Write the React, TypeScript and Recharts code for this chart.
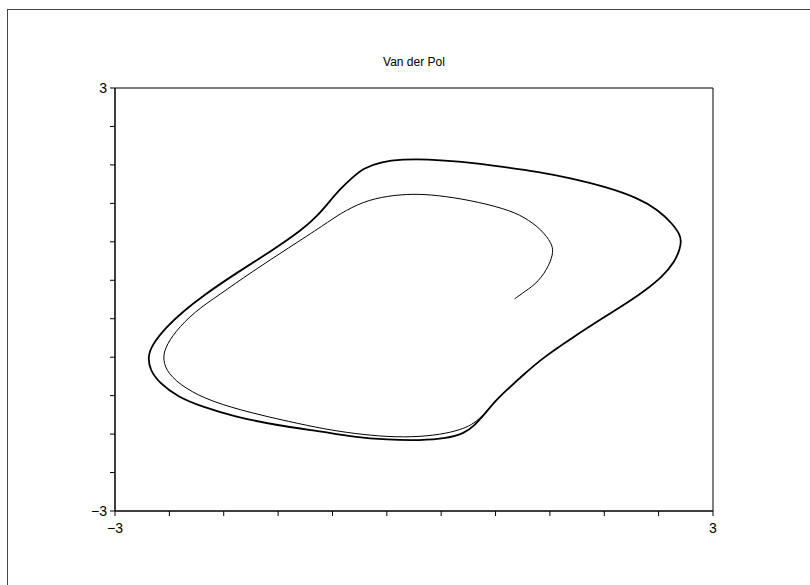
import { LineChart, Line, XAxis, YAxis, ReferenceArea } from 'recharts';

// first loop, from the start point until it joins the cycle
const transientX = [1.01, 1.11, 1.25, 1.36, 1.4, 1.38, 1.28, 1.11, 0.91, 0.56, 0.23, -0.01, -0.27, -0.51, -0.74, -0.89, -1.26, -1.63, -1.96, -2.2, -2.4, -2.5, -2.52, -2.47, -2.3, -2.03, -1.63, -1.26, -0.89, -0.61, -0.27, 0.06, 0.33, 0.5, 0.6, 0.71, 0.81, 0.91];
const transientY = [0.01, 0.11, 0.25, 0.49, 0.68, 0.8, 0.99, 1.17, 1.29, 1.41, 1.48, 1.5, 1.47, 1.39, 1.22, 1.07, 0.73, 0.39, 0.06, -0.17, -0.46, -0.69, -0.86, -1.05, -1.26, -1.45, -1.61, -1.73, -1.84, -1.9, -1.95, -1.95, -1.9, -1.83, -1.76, -1.62, -1.45, -1.31];

// the limit cycle (traced several times in the original, hence heavier)
const limitX = [0.91, 1.11, 1.31, 1.58, 1.92, 2.18, 2.32, 2.49, 2.62, 2.67, 2.68, 2.67, 2.59, 2.45, 2.25, 1.92, 1.58, 1.25, 0.91, 0.46, 0.13, -0.11, -0.34, -0.51, -0.61, -0.74, -0.86, -0.96, -1.12, -1.45, -1.8, -2.12, -2.3, -2.5, -2.63, -2.67, -2.65, -2.55, -2.37, -2.13, -1.8, -1.4, -0.89, -0.61, -0.27, 0.06, 0.33, 0.5, 0.6, 0.73, 0.81];
const limitY = [-1.31, -1.05, -0.81, -0.55, -0.24, -0.01, 0.13, 0.32, 0.54, 0.73, 0.82, 0.92, 1.08, 1.27, 1.44, 1.6, 1.72, 1.81, 1.88, 1.96, 1.99, 1.99, 1.95, 1.86, 1.74, 1.57, 1.37, 1.2, 0.99, 0.67, 0.36, 0.05, -0.15, -0.41, -0.65, -0.81, -1.0, -1.19, -1.38, -1.52, -1.66, -1.78, -1.88, -1.95, -1.99, -2.0, -1.97, -1.9, -1.8, -1.59, -1.45];

const xTicks = [-3, -2.4545, -1.9091, -1.3636, -0.8182, -0.2727, 0.2727, 0.8182, 1.3636, 1.9091, 2.4545, 3];
const yTicks = [-3, -2.4545, -1.9091, -1.3636, -0.8182, -0.2727, 0.2727, 0.8182, 1.3636, 1.9091, 2.4545, 3];
const labelledTicks = [-3, 3];
const title = 'Van der Pol';

const FONT = '"Liberation Sans", Arial, sans-serif';

const toPoints = (xs: number[], ys: number[]) => xs.map((x, i) => ({ x, y: ys[i] }));
const fmt = (v: number) => (v < 0 ? '\u2212' + Math.abs(v) : String(v));

const XTick = (props: any) => {
  const { x, y, payload } = props;
  if (!labelledTicks.includes(payload.value)) return <g />;
  return (
    <text x={x} y={y} dy={17} textAnchor="middle" fontSize={14} fontFamily={FONT} fill="#000">
      {fmt(payload.value)}
    </text>
  );
};

const YTick = (props: any) => {
  const { x, y, payload } = props;
  if (!labelledTicks.includes(payload.value)) return <g />;
  return (
    <text x={x} y={y} dx={-3} dy={5} textAnchor="end" fontSize={14} fontFamily={FONT} fill="#000">
      {fmt(payload.value)}
    </text>
  );
};

export default function App() {
  const transient = toPoints(transientX, transientY);
  const cycle = toPoints(limitX, limitY);

  return (
    <div style={{ position: 'absolute', left: 0, top: 0, width: 810, height: 585, background: '#fff', overflow: 'hidden' }}>
      <div
        style={{
          position: 'absolute',
          left: 7,
          top: 9,
          width: 820,
          height: 600,
          borderLeft: '1px solid #444',
          borderTop: '1px solid #444',
        }}
      />
      <div
        style={{
          position: 'absolute',
          left: 314,
          top: 55,
          width: 200,
          textAlign: 'center',
          fontFamily: FONT,
          fontSize: 12,
          color: '#000',
        }}
      >
        {title}
      </div>
      <div style={{ position: 'absolute', left: 0, top: 0 }}>
        <LineChart width={810} height={585} margin={{ top: 88, right: 97, bottom: 44, left: 75 }}>
          <XAxis
            dataKey="x"
            type="number"
            domain={[-3, 3]}
            ticks={xTicks}
            interval={0}
            height={30}
            tickSize={5}
            tickMargin={0}
            axisLine={{ stroke: '#000' }}
            tickLine={{ stroke: '#000' }}
            tick={<XTick />}
            allowDataOverflow
          />
          <YAxis
            dataKey="y"
            type="number"
            domain={[-3, 3]}
            ticks={yTicks}
            interval={0}
            width={40}
            tickSize={5}
            tickMargin={0}
            axisLine={{ stroke: '#000' }}
            tickLine={{ stroke: '#000' }}
            tick={<YTick />}
            allowDataOverflow
          />
          <ReferenceArea x1={-3} x2={3} y1={-3} y2={3} fill="none" stroke="#000" strokeOpacity={1} fillOpacity={0} />
          <Line
            data={transient}
            dataKey="y"
            type="basis"
            stroke="#000"
            strokeWidth={1}
            dot={false}
            activeDot={false}
            isAnimationActive={false}
          />
          <Line
            data={cycle}
            dataKey="y"
            type="basisClosed"
            stroke="#000"
            strokeWidth={1.8}
            dot={false}
            activeDot={false}
            isAnimationActive={false}
          />
        </LineChart>
      </div>
    </div>
  );
}
